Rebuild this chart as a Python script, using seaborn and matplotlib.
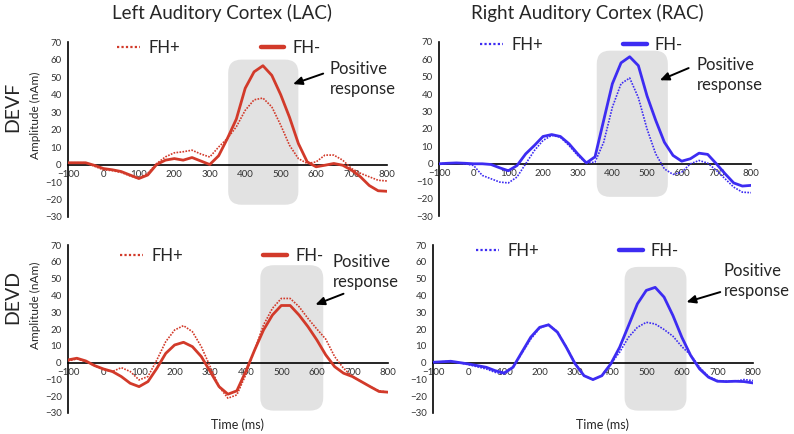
"""Evoked responses (FH+ vs FH-) in left / right auditory cortex, DEVF and DEVD."""

import matplotlib
matplotlib.use("Agg")
import matplotlib.pyplot as plt
from matplotlib.lines import Line2D
from matplotlib.patches import FancyBboxPatch
import numpy as np
import seaborn as sns


# --------------------------------------------------------
#       DATA
# --------------------------------------------------------

time_ms = list(range(-100, 801, 25))

# LAC, DEVF
lac_devf_fhplus = [1, 1, 1, -1, -3, -3.5, -4.5, -6.5, -8, -5, 0.5, 4.4, 6.7, 7.3, 8.2, 6, 4.3,
                   10, 15, 21.6, 31, 37, 38, 33, 22.6, 11, 3.4, 0.6, 1.5, 5.4, 5.4, 2.5, -2.3,
                   -5, -7, -9, -9.4]
lac_devf_fhminus = [1, 1, 1, -0.5, -2.3, -3, -4, -6, -8, -6, 0, 2.5, 3.4, 2.5, 4, 2, 0,
                    5, 15, 26, 43.6, 53, 56.5, 51, 40, 27, 12, 1.5, -1.3, -0.4, 0.6, -0.4, -3.2,
                    -7, -12, -15, -15.3]

# RAC, DEVF
rac_devf_fhplus = [0, 0.3, 0.5, 0, -1, -6.7, -8.6, -10.5, -11, -7.6, 0, 7.6, 13.4, 16.3, 15.3,
                   10.5, 4.8, 0.4, 1, 12.4, 32.5, 46, 49.3, 38, 20, 5.7, -2.9, -6.1, -4.8, 0,
                   1.9, 0.4, -3.8, -8.6, -13.4, -16.3, -16.6]
rac_devf_fhminus = [0, 0.3, 0.5, 0.3, 0, 0, -0.4, -2.3, -4, -1, 5.7, 10.5, 15.7, 16.8, 15.7,
                    11.5, 5.7, 0.5, 4, 25, 46, 58, 61.5, 56.4, 39, 25, 12.4, 4.8, 1.5, 2.9, 6.1,
                    5.4, 0, -5.7, -11, -12.8, -12.4]

# LAC, DEVD
lac_devd_fhplus = [1, 2.2, 0.6, -1.8, -4.4, -5.3, -3, -5.3, -10.3, -8.3, 1.6, 12.5, 19.4, 22,
                   18.4, 9.5, -2.4, -14.3, -21.2, -19.2, -7.3, 7.5, 22.4, 32.3, 38.2, 38.2, 33.3,
                   26.3, 20, 14, 3.6, -3.4, -8.3, -11.3, -14.3, -16.8, -17.6]
lac_devd_fhminus = [1.6, 2.6, 1, -1.8, -3.8, -5.3, -8.3, -12.3, -14.3, -11.3, -3.4, 5.5, 10.5,
                    12.1, 9.5, 3.6, -5.3, -14.3, -18.8, -16.8, -5.3, 7.5, 19.4, 28.3, 34, 34,
                    28.3, 21.4, 13.5, 4.6, -2.4, -6.3, -8.3, -11.3, -14.3, -17.2, -17.6]

# RAC, DEVD
rac_devd_fhplus = [0.2, 0.5, 0.8, -0.2, -1.2, -2.5, -3.8, -5.8, -6.8, -3, 5.5, 14, 20.5, 22.7,
                   18.5, 9.5, -0.5, -7.8, -10.1, -7.8, -0.8, 6.2, 15.1, 21, 24, 23, 19.7, 15.7,
                   9.5, 4.5, -2.8, -8.2, -10.7, -11.1, -11.1, -10.1, -10.7]
rac_devd_fhminus = [0.2, 0.5, 0.8, 0, -0.8, -1.8, -2.8, -4.8, -6.2, -2.8, 6.2, 15.1, 21, 22.5,
                    18.1, 9.1, -0.8, -7.8, -10.1, -7.8, -0.8, 9.1, 22, 35, 43, 44.8, 39, 28,
                    15.1, 4.2, -3.8, -8.7, -11.1, -11.3, -11.1, -11.3, -12.1]

# gray "positive response" windows: (t_start, t_end, amp_low, amp_high)
window_lac_devf = (352, 550, -23, 60)
window_rac_devf = (355, 560, -19, 65)
window_lac_devd = (441, 618, -28.6, 58)
window_rac_devd = (439, 613, -28.6, 57)

series_labels = ["FH+", "FH-"]
col_titles = ["Left Auditory Cortex (LAC)", "Right Auditory Cortex (RAC)"]
row_labels = ["DEVF", "DEVD"]

RED = "#d23a2a"
BLUE = "#3d2cf2"
BOX_GRAY = "#e2e2e2"


# --------------------------------------------------------
#       PLOTS
# --------------------------------------------------------

def draw_panel(ax, fhplus, fhminus, color, window, legend_xy, text_xy, arrow_tail, arrow_head):
    """One evoked-response panel"""

    # gray rounded window behind the curves
    t0, t1, a0, a1 = window
    box = FancyBboxPatch((t0, a0), t1 - t0, a1 - a0,
                         boxstyle="round,pad=0,rounding_size=38",
                         mutation_aspect=0.2, facecolor=BOX_GRAY, edgecolor="none", zorder=0)
    ax.add_patch(box)

    sns.lineplot(x=time_ms, y=fhplus, ax=ax, color=color, linewidth=1.2,
                 linestyle=(0, (1, 0.8)), zorder=3)
    sns.lineplot(x=time_ms, y=fhminus, ax=ax, color=color, linewidth=2.0, zorder=4,
                 solid_joinstyle="round")

    ax.set_xlim(-100, 800)
    ax.set_ylim(-30, 70)
    ax.set_xticks(np.arange(-100, 801, 100))
    ax.set_yticks(np.arange(-30, 71, 10))
    ax.set_xlabel("")
    ax.set_ylabel("")

    # axes: x axis at amplitude 0
    sns.despine(ax=ax)
    ax.spines["bottom"].set_position(("data", 0))
    for side in ("bottom", "left"):
        ax.spines[side].set_color("black")
        ax.spines[side].set_linewidth(1.2)
        ax.spines[side].set_zorder(2)
    ax.tick_params(axis="both", direction="out", length=3, width=1, color="black",
                   labelsize=7, labelcolor="#333333", pad=1.5)
    ax.tick_params(axis="x", pad=1)

    # legend
    handles = [Line2D([], [], color=color, linewidth=1.6, linestyle=(0, (1, 1))),
               Line2D([], [], color=color, linewidth=3.2)]
    ax.legend(handles, series_labels, loc="center left", bbox_to_anchor=legend_xy,
              frameon=False, ncol=2, fontsize=12, borderpad=0, borderaxespad=0,
              handlelength=1.4, handletextpad=0.5, columnspacing=4.8)

    ax.text(text_xy[0], text_xy[1], "Positive\nresponse", fontsize=12, ha="left", va="center",
            linespacing=1.3, zorder=5)
    ax.annotate("", xy=arrow_head, xytext=arrow_tail,
                arrowprops=dict(arrowstyle="-|>,head_length=0.45,head_width=0.2",
                                color="black", lw=1.4, shrinkA=0, shrinkB=0))


# --------------------------------------------------------
#       MAIN
# --------------------------------------------------------

if __name__ == "__main__":

    sns.set_theme(style="white")
    plt.rcParams["font.family"] = ["Lato", "DejaVu Sans"]

    fig = plt.figure(figsize=(7.94, 4.34), dpi=100)

    ax_tl = fig.add_axes([0.0856, 0.500, 0.4018, 0.403])
    ax_tr = fig.add_axes([0.5529, 0.5023, 0.393, 0.401])
    ax_bl = fig.add_axes([0.0856, 0.0484, 0.403, 0.387])
    ax_br = fig.add_axes([0.5453, 0.0484, 0.403, 0.387])

    draw_panel(ax_tl, lac_devf_fhplus, lac_devf_fhminus, RED, window_lac_devf,
               (0.154, 0.966), (639, 49), (620, 52), (535, 46))
    draw_panel(ax_tr, rac_devf_fhplus, rac_devf_fhminus, BLUE, window_rac_devf,
               (0.131, 0.983), (644, 51), (620, 55), (537, 48))
    draw_panel(ax_bl, lac_devd_fhplus, lac_devd_fhminus, RED, window_lac_devd,
               (0.1625, 0.935), (645, 54), (675, 41), (596, 34.5))
    draw_panel(ax_br, rac_devd_fhplus, rac_devd_fhminus, BLUE, window_rac_devd,
               (0.134, 0.964), (718, 48.5), (708, 42), (613, 36))

    # column titles, row labels, axis labels
    fig.text(222 / 794, 1 - 13 / 434, col_titles[0], fontsize=13.5, ha="center", va="center")
    fig.text(587 / 794, 1 - 13 / 434, col_titles[1], fontsize=13.5, ha="center", va="center")
    fig.text(13 / 794, 1 - 107 / 434, row_labels[0], fontsize=14, rotation=90,
             ha="center", va="center")
    fig.text(13 / 794, 1 - 297 / 434, row_labels[1], fontsize=14, rotation=90,
             ha="center", va="center")
    for yc in (115, 305):
        fig.text(35 / 794, 1 - yc / 434, "Amplitude (nAm)", fontsize=8.5, rotation=90,
                 ha="center", va="center")
    fig.text(237 / 794, 1 - 425 / 434, "Time (ms)", fontsize=9, ha="center", va="center")
    fig.text(602 / 794, 1 - 425 / 434, "Time (ms)", fontsize=9, ha="center", va="center")

    fig.savefig("out.png", dpi=100)
